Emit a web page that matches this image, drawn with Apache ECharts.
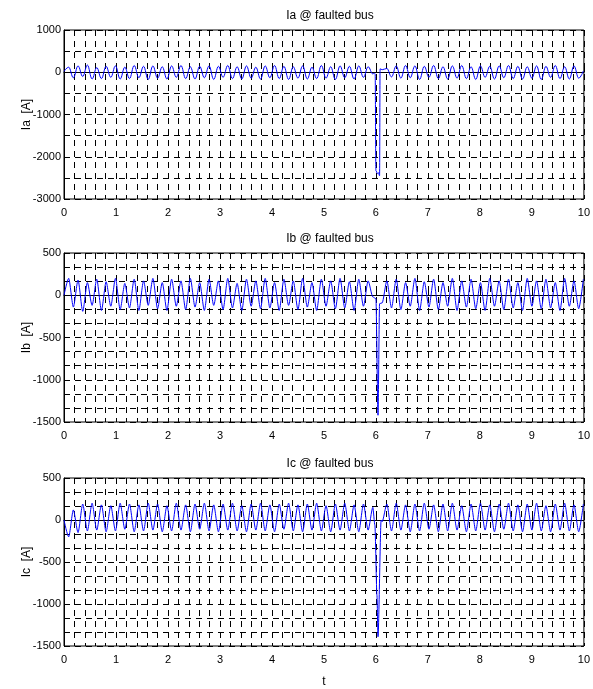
<!DOCTYPE html>
<html>
<head>
<meta charset="utf-8">
<script src="https://cdn.jsdelivr.net/npm/echarts@6/dist/echarts.min.js"></script>
<style>
  html, body { margin: 0; padding: 0; background: #fff; }
  #chart { width: 593px; height: 689px; }
</style>
</head>
<body>
<div id="chart"></div>
<script>
// sample step of the recorded currents (s)
const DT = 0.09;

// Ia samples (A), one every DT, null where the fault samples take over
const ia = [
  20, 120, -130, 150, -100, 170, -160, 110, -150, 140,
  -120, 150, -160, 120, -150, 160, -130, 140, -170, 150,
  -140, 130, -160, 150, -120, 160, -150, 130, -160, 140,
  -130, 150, -170, 140, -120, 160, -150, 130, -160, 150,
  -140, 120, -160, 150, -130, 160, -150, 140, -170, 130,
  -140, 150, -160, 120, -150, 160, -140, 130, -170, 150,
  -130, 140, -160, 150, -120, 130, -40, null, 60, 90,
  -110, 150, -140, 160, -130, 150, -170, 140, -120, 160,
  -150, 130, -160, 150, -140, 160, -150, 130, -170, 150,
  -120, 140, -160, 150, -130, 160, -150, 140, -160, 130,
  -140, 150, -170, 140, -120, 160, -150, 130, -160, 150,
  -140, 30
];
const ib = [
  0, 200, -140, 180, -190, 150, -120, 190, -180, 160,
  -130, 200, -170, 140, -150, 190, -180, 170, -120, 200,
  -160, 150, -180, 190, -130, 170, -170, 200, -140, 150,
  -180, 190, -120, 170, -170, 200, -150, 140, -180, 190,
  -130, 170, -160, 200, -150, 150, -180, 190, -120, 170,
  -170, 200, -140, 150, -180, 190, -130, 170, -160, 200,
  -150, 160, -180, 190, -130, 170, -20, null, -90, 170,
  -150, 190, -170, 150, -130, 200, -180, 160, -140, 190,
  -170, 150, -130, 200, -180, 170, -140, 190, -160, 150,
  -180, 200, -130, 170, -170, 190, -150, 150, -180, 200,
  -130, 170, -160, 190, -150, 150, -180, 200, -130, 170,
  -160, 190
];
const ic = [
  0, -200, 120, -150, 190, -130, 200, -120, 180, -140,
  170, -130, 200, -110, 190, -140, 180, -130, 200, -120,
  190, -140, 170, -130, 200, -120, 180, -140, 190, -110,
  200, -130, 180, -140, 190, -120, 200, -130, 170, -140,
  190, -120, 200, -130, 180, -140, 190, -110, 200, -130,
  180, -140, 190, -120, 200, -130, 170, -140, 190, -120,
  200, -130, 180, -140, 190, -120, 150, null, -20, 190,
  -130, 200, -120, 180, -140, 190, -130, 200, -110, 180,
  -140, 190, -130, 200, -120, 170, -140, 190, -130, 200,
  -120, 180, -140, 190, -110, 200, -130, 180, -140, 190,
  -120, 200, -130, 170, -140, 190, -120, 200, -130, 180,
  -140, 190
];

// extra samples around the fault at t = 6 s
const iaFaultT = [5.97, 5.985, 6.0, 6.03, 6.05, 6.07, 6.08];
const iaFault = [-20, -40, -2330, -2400, -2380, -2450, 80];
const ibFaultT = [6.0, 6.04, 6.07];
const ibFault = [-40, -1420, -100];
const icFaultT = [5.98, 6.02, 6.04, 6.1];
const icFault = [-60, -900, -1390, 0];

const titles = ['Ia @ faulted bus', 'Ib @ faulted bus', 'Ic @ faulted bus'];
const yNames = ['Ia  [A]', 'Ib  [A]', 'Ic  [A]'];
const yMin = [-3000, -1500, -1500];
const yMax = [1000, 500, 500];
const yStep = [1000, 500, 500];
const yMinor = [2, 3, 3];

function buildSeries(vals, ft, fv) {
  const pts = [];
  vals.forEach((v, i) => {
    if (v !== null) pts.push([+(i * DT).toFixed(3), v]);
  });
  ft.forEach((t, i) => pts.push([t, fv[i]]));
  pts.sort((a, b) => a[0] - b[0]);
  return pts;
}

const data = [
  buildSeries(ia, iaFaultT, iaFault),
  buildSeries(ib, ibFaultT, ibFault),
  buildSeries(ic, icFaultT, icFault)
];

const FONT = 'Liberation Sans';
const tops = [30, 253, 478];
const grid = [], xAxis = [], yAxis = [], series = [], title = [];
const dash = { color: '#000', width: 1, type: [6, 5] };

for (let k = 0; k < 3; k++) {
  grid.push({ left: 64, top: tops[k], width: 522, height: 169,
    show: true, borderColor: '#000', borderWidth: 1 });
  title.push({
    text: titles[k], left: 325, top: tops[k] - 25, textAlign: 'center',
    textStyle: { fontFamily: FONT, fontSize: 12, fontWeight: 'normal', color: '#000' }
  });
  xAxis.push({
    gridIndex: k, type: 'value', min: 0, max: 10, interval: 1,
    name: k === 2 ? 't' : '', nameLocation: 'middle', nameGap: 30,
    nameTextStyle: { fontFamily: FONT, fontSize: 12, color: '#000' },
    axisLine: { lineStyle: { color: '#000', width: 1 } },
    axisTick: { inside: true, length: 4, lineStyle: { color: '#000' } },
    axisLabel: { fontFamily: FONT, fontSize: 11, color: '#000', margin: 8 },
    splitLine: { show: true, lineStyle: dash },
    minorTick: { show: false, splitNumber: 5 },
    minorSplitLine: { show: true, lineStyle: dash }
  });
  yAxis.push({
    gridIndex: k, type: 'value', min: yMin[k], max: yMax[k], interval: yStep[k],
    name: yNames[k], nameLocation: 'middle', nameGap: 31, nameRotate: 90,
    nameMoveOverlap: false,
    nameTextStyle: { fontFamily: FONT, fontSize: 12, color: '#000' },
    axisLine: { show: true, lineStyle: { color: '#000', width: 1 } },
    axisTick: { show: true, inside: true, length: 4, lineStyle: { color: '#000' } },
    axisLabel: { fontFamily: FONT, fontSize: 11, color: '#000', margin: 3,
      formatter: v => String(v) },
    splitLine: { show: true, lineStyle: dash },
    minorTick: { show: false, splitNumber: yMinor[k] },
    minorSplitLine: { show: true, lineStyle: dash }
  });
  series.push({
    type: 'line', xAxisIndex: k, yAxisIndex: k, data: data[k],
    symbol: 'none', smooth: k === 0 ? 0.4 : 0.25, smoothMonotone: 'x',
    lineStyle: { color: '#0000ff', width: 1 }, z: 5
  });
}

const chart = echarts.init(document.getElementById('chart'));
chart.setOption({
  animation: false,
  backgroundColor: '#fff',
  title, grid, xAxis, yAxis, series
});
</script>
</body>
</html>
